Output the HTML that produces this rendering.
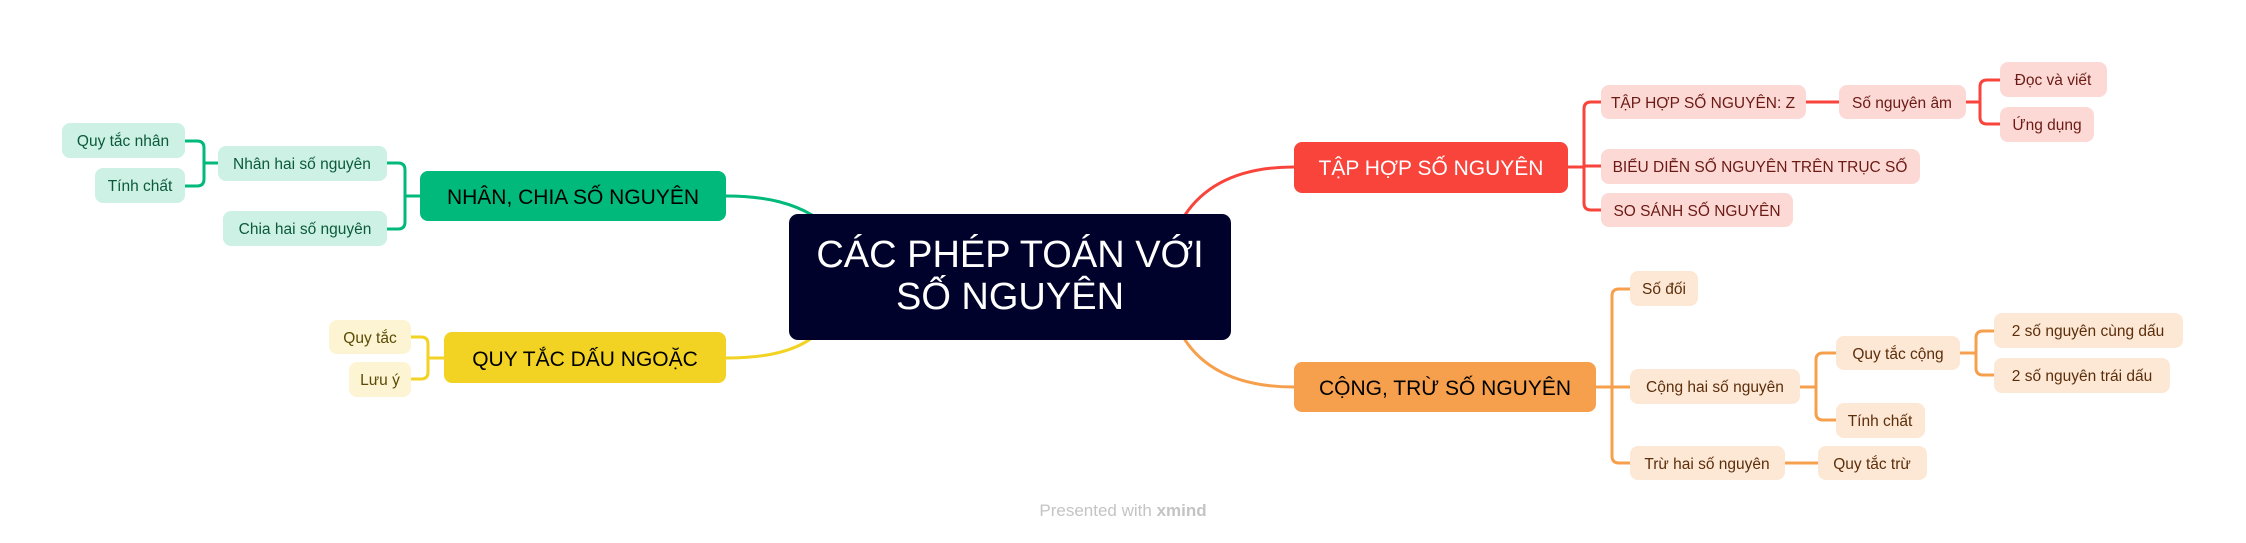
<!DOCTYPE html>
<html><head><meta charset="utf-8"><style>
html,body{margin:0;padding:0;background:#fff;}
svg{display:block;}
text{font-family:"Liberation Sans","DejaVu Sans",sans-serif;}
</style></head><body>
<svg width="2246" height="543" viewBox="0 0 2246 543" xmlns="http://www.w3.org/2000/svg">
<g fill="none" stroke-width="3" stroke-linecap="round">
<path d="M726 196 C770 196 795 205 812 215" stroke="#00b97a"/>
<path d="M726 358 C770 358 795 350 812 338" stroke="#f2d323"/>
<path d="M1294 167 C1240 167 1205 185 1185 215" stroke="#f9443c"/>
<path d="M1294 387 C1240 387 1205 370 1185 340" stroke="#f6a04d"/>
<path d="M420 196 H405 M405 170 V222 M405 170 Q405 163 398 163 H387 M405 222 Q405 229 398 229 H387" stroke="#00b97a"/>
<path d="M218 163 H204 M204 148 V179 M204 148 Q204 141 197 141 H185 M204 179 Q204 186 197 186 H185" stroke="#00b97a"/>
<path d="M444 358 H428 M428 344 V372 M428 344 Q428 337 421 337 H411 M428 372 Q428 379 421 379 H411" stroke="#f2d323"/>
<path d="M1568 167 H1584 M1584 109 V203 M1584 109 Q1584 102 1591 102 H1601 M1584 203 Q1584 210 1591 210 H1601 M1584 166 H1601" stroke="#f9443c"/>
<path d="M1806 102 H1839 M1966 102 H1980 M1980 87 V117 M1980 87 Q1980 80 1987 80 H2000 M1980 117 Q1980 124 1987 124 H2000" stroke="#f9443c"/>
<path d="M1596 387 H1612 M1612 296 V456 M1612 296 Q1612 289 1619 289 H1630 M1612 456 Q1612 463 1619 463 H1630 M1612 387 H1630" stroke="#f6a04d"/>
<path d="M1800 387 H1816 M1816 360 V413 M1816 360 Q1816 353 1823 353 H1836 M1816 413 Q1816 420 1823 420 H1836" stroke="#f6a04d"/>
<path d="M1960 353 H1976 M1976 338 V368 M1976 338 Q1976 331 1983 331 H1994 M1976 368 Q1976 375 1983 375 H1994" stroke="#f6a04d"/>
<path d="M1785 463 H1818" stroke="#f6a04d"/>
</g>

<rect x="789" y="214" width="442" height="126" rx="9" fill="#00022b"/>
<text x="1010" y="267" font-size="38" fill="#fff" text-anchor="middle">CÁC PHÉP TOÁN VỚI</text>
<text x="1010" y="309" font-size="38" fill="#fff" text-anchor="middle">SỐ NGUYÊN</text>

<rect x="420" y="171" width="306" height="50" rx="8" fill="#00b97a"/>
<text x="573" y="204" font-size="21" fill="#000" text-anchor="middle">NHÂN, CHIA SỐ NGUYÊN</text>
<rect x="444" y="332" width="282" height="51" rx="8" fill="#f2d323"/>
<text x="585" y="366" font-size="21" fill="#000" text-anchor="middle">QUY TẮC DẤU NGOẶC</text>
<rect x="1294" y="142" width="274" height="51" rx="8" fill="#f9443c"/>
<text x="1431" y="175" font-size="21" fill="#fff" text-anchor="middle">TẬP HỢP SỐ NGUYÊN</text>
<rect x="1294" y="362" width="302" height="50" rx="8" fill="#f6a04d"/>
<text x="1445" y="395" font-size="21" fill="#000" text-anchor="middle">CỘNG, TRỪ SỐ NGUYÊN</text>

<g font-size="15.5" fill="#0b5a3c" text-anchor="middle">
<rect x="218" y="146" width="169" height="35" rx="8" fill="#cdf1e4"/><text x="302" y="169">Nhân hai số nguyên</text>
<rect x="223" y="211" width="164" height="35" rx="8" fill="#cdf1e4"/><text x="305" y="234">Chia hai số nguyên</text>
<rect x="62" y="123" width="123" height="35" rx="8" fill="#cdf1e4"/><text x="123" y="146">Quy tắc nhân</text>
<rect x="95" y="168" width="90" height="35" rx="8" fill="#cdf1e4"/><text x="140" y="191">Tính chất</text>
</g>
<g font-size="15.5" fill="#5a4a05" text-anchor="middle">
<rect x="329" y="320" width="82" height="34" rx="8" fill="#fcf4d2"/><text x="370" y="343">Quy tắc</text>
<rect x="349" y="362" width="62" height="35" rx="8" fill="#fcf4d2"/><text x="380" y="385">Lưu ý</text>
</g>
<g font-size="15.5" fill="#6b1a14" text-anchor="middle">
<rect x="1601" y="85" width="205" height="34" rx="8" fill="#fdd9d6"/><text x="1703" y="108">TẬP HỢP SỐ NGUYÊN: Z</text>
<rect x="1839" y="85" width="127" height="34" rx="8" fill="#fdd9d6"/><text x="1902" y="108">Số nguyên âm</text>
<rect x="2000" y="62" width="107" height="35" rx="8" fill="#fdd9d6"/><text x="2053" y="85">Đọc và viết</text>
<rect x="2000" y="107" width="94" height="35" rx="8" fill="#fdd9d6"/><text x="2047" y="130">Ứng dụng</text>
<rect x="1601" y="149" width="319" height="35" rx="8" fill="#fdd9d6"/><text x="1760" y="172">BIỂU DIỄN SỐ NGUYÊN TRÊN TRỤC SỐ</text>
<rect x="1601" y="193" width="192" height="34" rx="8" fill="#fdd9d6"/><text x="1697" y="216">SO SÁNH SỐ NGUYÊN</text>
</g>
<g font-size="15.5" fill="#5c2e0a" text-anchor="middle">
<rect x="1630" y="271" width="68" height="35" rx="8" fill="#fde8d6"/><text x="1664" y="294">Số đối</text>
<rect x="1630" y="369" width="170" height="35" rx="8" fill="#fde8d6"/><text x="1715" y="392">Cộng hai số nguyên</text>
<rect x="1630" y="446" width="155" height="34" rx="8" fill="#fde8d6"/><text x="1707" y="469">Trừ hai số nguyên</text>
<rect x="1836" y="336" width="124" height="34" rx="8" fill="#fde8d6"/><text x="1898" y="359">Quy tắc cộng</text>
<rect x="1836" y="403" width="89" height="35" rx="8" fill="#fde8d6"/><text x="1880" y="426">Tính chất</text>
<rect x="1818" y="446" width="109" height="34" rx="8" fill="#fde8d6"/><text x="1872" y="469">Quy tắc trừ</text>
<rect x="1994" y="313" width="189" height="35" rx="8" fill="#fde8d6"/><text x="2088" y="336">2 số nguyên cùng dấu</text>
<rect x="1994" y="358" width="176" height="35" rx="8" fill="#fde8d6"/><text x="2082" y="381">2 số nguyên trái dấu</text>
</g>

<text x="1123" y="516" font-size="17" fill="#c4c4c4" text-anchor="middle">Presented with <tspan font-weight="bold">xmind</tspan></text>
</svg>
</body></html>
